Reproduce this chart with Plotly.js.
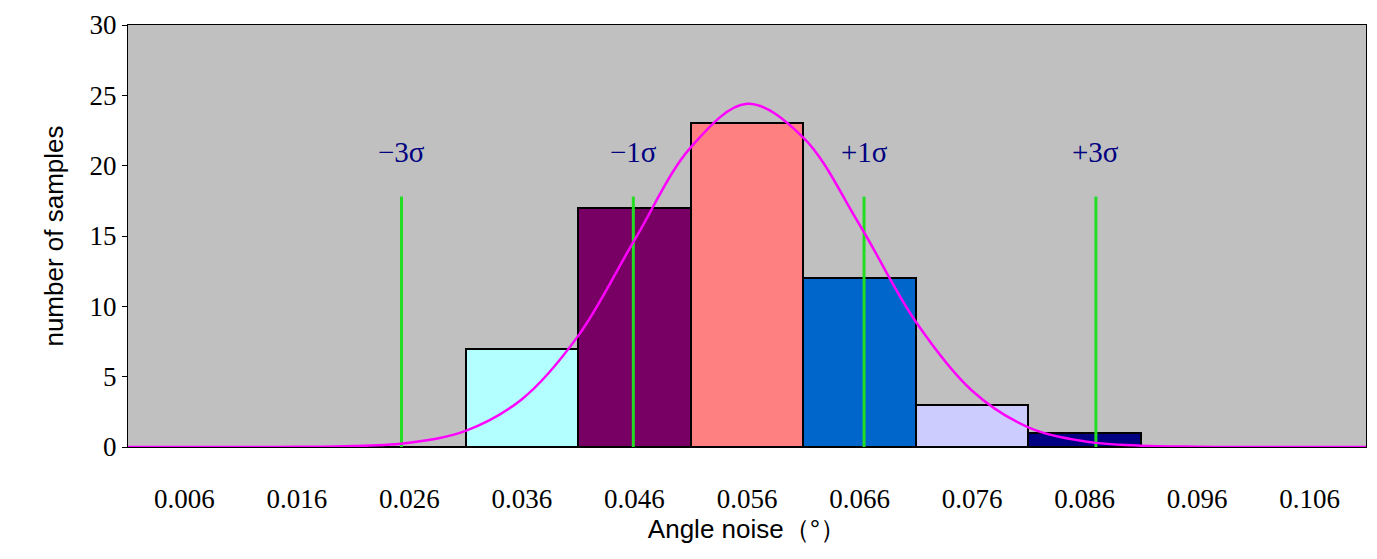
<!DOCTYPE html>
<html>
<head>
<meta charset="utf-8">
<script src="https://cdn.plot.ly/plotly-3.0.1.min.js"></script>
<style>body{margin:0}#myDiv{width:1377px;height:559px}</style>
</head>
<body>
<div id="myDiv"></div>
<script>
// Histogram bins (centres) and counts
var binCentres = [0.006, 0.016, 0.026, 0.036, 0.046, 0.056, 0.066, 0.076, 0.086, 0.096, 0.106];
var binCounts = [0, 0, 0, 7, 17, 23, 12, 3, 1, 0, 0];
var binColors = ['#c0c0c0', '#c0c0c0', '#c0c0c0', '#b3ffff', '#780064', '#ff8080', '#0066cc', '#ccccff', '#000080', '#c0c0c0', '#c0c0c0'];

// Fitted curve
var curveX = [0.001, 0.011, 0.016, 0.021, 0.026, 0.031, 0.036, 0.041, 0.046, 0.051, 0.056, 0.061, 0.066, 0.071, 0.076, 0.081, 0.086, 0.091, 0.096, 0.101, 0.111];
var curveY = [0, 0, 0.01, 0.07, 0.31, 1.15, 3.4, 7.9, 14.7, 21.3, 24.4, 22.0, 15.8, 8.9, 4.0, 1.4, 0.4, 0.09, 0.02, 0, 0];

// Sigma markers
var sigmaX = [0.0253, 0.0459, 0.0664, 0.0870];
var sigmaLabels = ['\u22123\u03c3', '\u22121\u03c3', '+1\u03c3', '+3\u03c3'];
var sigmaTop = 17.8;

var bars = {
  x: binCentres.slice(2, 9),
  y: binCounts.slice(2, 9),
  type: 'bar',
  width: 0.01,
  marker: {color: binColors.slice(2, 9), line: {color: 'black', width: 2}},
  hoverinfo: 'x+y'
};

var data = [bars];

sigmaX.forEach(function(sx) {
  data.push({
    x: [sx, sx], y: [0, sigmaTop], mode: 'lines', type: 'scatter',
    line: {color: '#22dd22', width: 3}, hoverinfo: 'skip'
  });
});

data.push({
  x: curveX, y: curveY, mode: 'lines', type: 'scatter',
  line: {color: '#ff00ff', width: 2.5, shape: 'spline'}, hoverinfo: 'skip'
});

var annotations = sigmaX.map(function(sx, i) {
  return {
    x: sx, y: 21, text: sigmaLabels[i], showarrow: false,
    font: {family: 'Liberation Serif', size: 29, color: '#000080'}
  };
});

var layout = {
  width: 1377, height: 559,
  margin: {l: 128, r: 11, t: 25, b: 112},
  paper_bgcolor: 'white',
  plot_bgcolor: '#c0c0c0',
  showlegend: false,
  bargap: 0,
  annotations: annotations,
  xaxis: {
    range: [0.001, 0.111],
    tickvals: binCentres,
    ticktext: binCentres.map(function(v) { return v.toFixed(3); }),
    ticks: '', ticklabelstandoff: 28,
    showgrid: false, zeroline: false,
    showline: true, linecolor: 'black', linewidth: 1, mirror: true,
    tickfont: {family: 'Liberation Serif', size: 27, color: 'black'},
    title: {text: 'Angle noise\uff08\u00b0\uff09', standoff: 0,
      font: {family: 'Liberation Sans', size: 26, color: 'black'}}
  },
  yaxis: {
    range: [0, 30], dtick: 5,
    ticks: 'outside', ticklen: 5, tickcolor: 'black',
    showgrid: false, zeroline: false,
    showline: true, linecolor: 'black', linewidth: 1, mirror: true,
    tickfont: {family: 'Liberation Serif', size: 27, color: 'black'},
    title: {text: 'number of samples', standoff: 18,
      font: {family: 'Liberation Sans', size: 26, color: 'black'}}
  }
};

Plotly.newPlot('myDiv', data, layout, {displayModeBar: false});
</script>
</body>
</html>
